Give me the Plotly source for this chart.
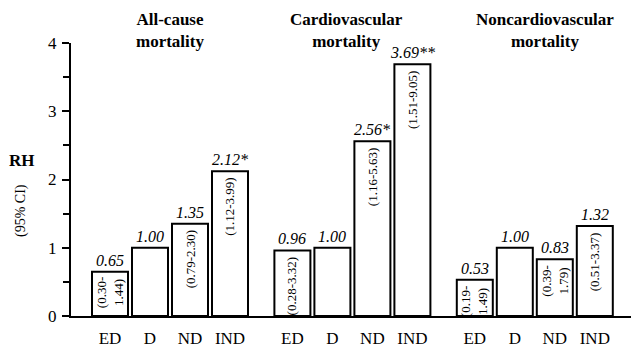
import plotly.graph_objects as go

groups = ["All-cause<br>mortality", "Cardiovascular<br>mortality", "Noncardiovascular<br>mortality"]
categories = ["ED", "D", "ND", "IND"]
rh_allcause = [0.65, 1.00, 1.35, 2.12]
rh_cardio = [0.96, 1.00, 2.56, 3.69]
rh_noncardio = [0.53, 1.00, 0.83, 1.32]
lbl_allcause = ["0.65", "1.00", "1.35", "2.12*"]
lbl_cardio = ["0.96", "1.00", "2.56*", "3.69**"]
lbl_noncardio = ["0.53", "1.00", "0.83", "1.32"]
ci_allcause = ["(0.30-<br>1.44)", "", "(0.79-2.30)", "(1.12-3.99)"]
ci_cardio = ["(0.28-3.32)", "", "(1.16-5.63)", "(1.51-9.05)"]
ci_noncardio = ["(0.19-<br>1.49)", "", "(0.39-<br>1.79)", "(0.51-3.37)"]
y_ticks = [0, 1, 2, 3, 4]

series = [rh_allcause, rh_cardio, rh_noncardio]
value_labels = [lbl_allcause, lbl_cardio, lbl_noncardio]
ci_labels = [ci_allcause, ci_cardio, ci_noncardio]

GROUP_STEP = 4.56
SERIF = "Liberation Serif"
OFF = 8  # page body margin

# target pixel geometry (page coordinates)
plot_left, plot_right, plot_top, plot_bottom = 71, 631, 43, 316
W, H = 640, 355
pw = plot_right - plot_left
ph = plot_bottom - plot_top


def px_to_paper(px, py):
    return (px - plot_left) / pw, (plot_bottom - py) / ph


fig = go.Figure()
xs_all, ys_all, tick_text = [], [], []
annotations = []
title_x_px = [170, 346, 545]
for g, vals in enumerate(series):
    xs = [g * GROUP_STEP + i for i in range(len(categories))]
    xs_all += xs
    ys_all += vals
    tick_text += categories
    for x, v, lab, ci in zip(xs, vals, value_labels[g], ci_labels[g]):
        annotations.append(dict(x=x, y=v, text="<i>" + lab + "</i>", showarrow=False,
                                yanchor="bottom", yshift=1,
                                font=dict(family=SERIF, size=16, color="black")))
        if ci:
            annotations.append(dict(x=x, y=v, text=ci, showarrow=False, yanchor="top",
                                    yshift=-4, textangle=-90,
                                    font=dict(family=SERIF, size=13, color="black")))
    tx, ty = px_to_paper(title_x_px[g], 31)
    annotations.append(dict(x=tx, y=ty, xref="paper", yref="paper",
                            xanchor="center", yanchor="middle",
                            text="<b>" + groups[g] + "</b>", showarrow=False,
                            font=dict(family=SERIF, size=17, color="black")))

fig.add_trace(go.Bar(x=xs_all, y=ys_all, width=0.9,
                     marker=dict(color="white", line=dict(color="black", width=2)),
                     hoverinfo="skip"))

rx, ry = px_to_paper(22, 160)
annotations.append(dict(x=rx, y=ry, xref="paper", yref="paper",
                        text="<b>RH</b>", showarrow=False, xanchor="center", yanchor="middle",
                        font=dict(family=SERIF, size=17, color="black")))
cx, cy = px_to_paper(21, 211)
annotations.append(dict(x=cx, y=cy, xref="paper", yref="paper",
                        text="(95% CI)", showarrow=False, textangle=-90,
                        xanchor="center", yanchor="middle",
                        font=dict(family=SERIF, size=14, color="black")))

x0 = (plot_left - 110) / 40
x1 = (plot_right - 110) / 40
fig.update_layout(
    width=W, height=H,
    margin=dict(l=plot_left - OFF, r=W - (plot_right - OFF), t=plot_top - OFF,
                b=H - (plot_bottom - OFF)),
    plot_bgcolor="white", paper_bgcolor="white",
    showlegend=False,
    annotations=annotations,
    xaxis=dict(range=[x0, x1], tickvals=xs_all, ticktext=tick_text, showline=True,
               linecolor="black", linewidth=2, ticks="", showgrid=False, zeroline=False,
               tickfont=dict(family=SERIF, size=17, color="black"), ticklabelstandoff=6),
    yaxis=dict(range=[0, 4], tickvals=y_ticks, showline=True, linecolor="black", linewidth=2,
               ticks="outside", ticklen=7, tickwidth=2, tickcolor="black",
               showgrid=False, zeroline=False, ticklabelstandoff=2,
               minor=dict(dtick=0.5, ticks="outside", ticklen=6, tickwidth=2, tickcolor="black",
                          showgrid=False),
               tickfont=dict(family=SERIF, size=17, color="black")),
)
fig.write_html("out.html")
